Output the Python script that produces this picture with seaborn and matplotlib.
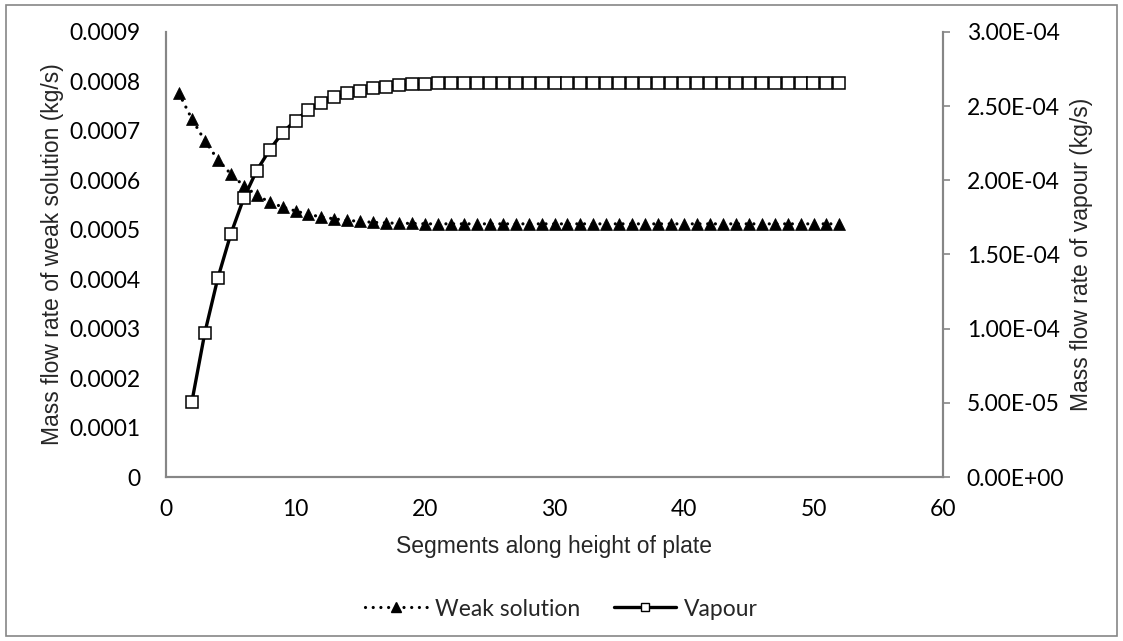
import matplotlib
matplotlib.use("Agg")
import matplotlib.pyplot as plt
import seaborn as sns
import pandas as pd
from matplotlib.lines import Line2D
from matplotlib.patches import Rectangle
from matplotlib.ticker import FuncFormatter, MultipleLocator

# ---- data ----
weak_x = list(range(1, 53))
weak_y = [0.000776, 0.000724, 0.000680, 0.000642, 0.000613, 0.000589, 0.000570,
          0.000556, 0.000546, 0.000538, 0.000531, 0.000526, 0.000522, 0.000519,
          0.000517, 0.000515, 0.000514, 0.000513, 0.000513, 0.000512, 0.000512,
          0.000512, 0.000512, 0.000512, 0.000512, 0.000512, 0.000512, 0.000512,
          0.000512, 0.000512, 0.000512, 0.000512, 0.000512, 0.000512, 0.000512,
          0.000512, 0.000512, 0.000512, 0.000512, 0.000512, 0.000512, 0.000512,
          0.000512, 0.000512, 0.000512, 0.000512, 0.000512, 0.000512, 0.000512,
          0.000512, 0.000512, 0.000512]

vap_x = list(range(2, 53))
vap_y = [0.508e-4, 0.973e-4, 1.340e-4, 1.637e-4, 1.879e-4, 2.065e-4, 2.205e-4,
         2.322e-4, 2.403e-4, 2.475e-4, 2.524e-4, 2.560e-4, 2.587e-4, 2.605e-4,
         2.621e-4, 2.632e-4, 2.641e-4, 2.647e-4, 2.651e-4, 2.654e-4, 2.656e-4,
         2.657e-4, 2.658e-4, 2.659e-4, 2.659e-4, 2.659e-4, 2.659e-4, 2.659e-4,
         2.659e-4, 2.659e-4, 2.659e-4, 2.659e-4, 2.659e-4, 2.659e-4, 2.659e-4,
         2.659e-4, 2.659e-4, 2.659e-4, 2.659e-4, 2.659e-4, 2.659e-4, 2.659e-4,
         2.659e-4, 2.659e-4, 2.659e-4, 2.659e-4, 2.659e-4, 2.659e-4, 2.659e-4,
         2.659e-4, 2.659e-4]

series_names = ["Weak solution", "Vapour"]
x_label = "Segments along height of plate"
y_left_label = "Mass flow rate of weak solution (kg/s)"
y_right_label = "Mass flow rate of vapour (kg/s)"

# ---- style ----
sns.set_style("white")
plt.rcParams["font.family"] = ["Lato", "DejaVu Sans"]
GRAY = "#868686"
TICK_FS = 16.5
LABEL_FONT = dict(family=["Liberation Sans", "DejaVu Sans"], size=16.5)
DOTTED = (0, (0.01, 2.4))

fig = plt.figure(figsize=(11.23, 6.41), dpi=100)
ax = fig.add_axes([166 / 1123, 1 - 477 / 641, (943 - 166) / 1123, (477 - 32) / 641])
ax2 = ax.twinx()

df_w = pd.DataFrame({"x": weak_x, "y": weak_y})
df_v = pd.DataFrame({"x": vap_x, "y": vap_y})

sns.lineplot(data=df_w, x="x", y="y", ax=ax, color="black", linewidth=2.3,
             linestyle=DOTTED, marker="^", markersize=8.5,
             markeredgecolor="black", markerfacecolor="black", markeredgewidth=0.5,
             dash_capstyle="round", zorder=3)
sns.lineplot(data=df_v, x="x", y="y", ax=ax2, color="black", linewidth=2.4,
             marker="s", markersize=8.3, markerfacecolor="white",
             markeredgecolor="black", markeredgewidth=1.1, zorder=3)

ax.set_xlim(0, 60)
ax.set_ylim(0, 0.0009)
ax2.set_ylim(0, 0.0003)
ax.xaxis.set_major_locator(MultipleLocator(10))
ax.yaxis.set_major_locator(MultipleLocator(0.0001))
ax2.yaxis.set_major_locator(MultipleLocator(0.00005))

ax.yaxis.set_major_formatter(FuncFormatter(lambda v, p: "0" if abs(v) < 1e-12 else f"{v:.4f}"))
ax2.yaxis.set_major_formatter(FuncFormatter(lambda v, p: f"{v:.2E}"))

for a in (ax, ax2):
    for s in a.spines.values():
        s.set_color(GRAY)
        s.set_linewidth(1.5)
    a.spines["top"].set_visible(False)
    a.grid(False)

ax.tick_params(axis="y", which="both", length=0, labelsize=TICK_FS, colors="black", pad=18)
ax.tick_params(axis="x", which="both", length=0, labelsize=TICK_FS, colors="black", pad=16)
ax2.tick_params(axis="y", length=5, width=1.2, color=GRAY, direction="out",
                labelsize=TICK_FS, labelcolor="black", pad=12)

ax.set_xlabel(x_label, **LABEL_FONT)
ax.set_ylabel(y_left_label, **LABEL_FONT)
ax2.set_ylabel(y_right_label, **LABEL_FONT)
ax.xaxis.set_label_coords(0.5, -0.13)
ax.yaxis.set_label_coords(-0.131, 0.5)
ax2.yaxis.set_label_coords(1.163, 0.5)

handles = [
    Line2D([], [], color="black", linewidth=2.3, linestyle=DOTTED,
           dash_capstyle="round", marker="^", markersize=6.5, markerfacecolor="black"),
    Line2D([], [], color="black", linewidth=2.4, marker="s", markersize=6,
           markerfacecolor="white", markeredgecolor="black", markeredgewidth=1.0),
]
fig.legend(handles, series_names, loc="center", bbox_to_anchor=(0.5, 1 - 609 / 641),
           ncol=2, frameon=False, fontsize=TICK_FS, handlelength=2.7, columnspacing=1.5,
           handletextpad=0.35)

fig.patches.append(Rectangle((6 / 1123, 5 / 641), (1117 - 6) / 1123, (636 - 5) / 641,
                             transform=fig.transFigure, fill=False,
                             edgecolor=GRAY, linewidth=1.2))

fig.savefig("out.png", dpi=100)
